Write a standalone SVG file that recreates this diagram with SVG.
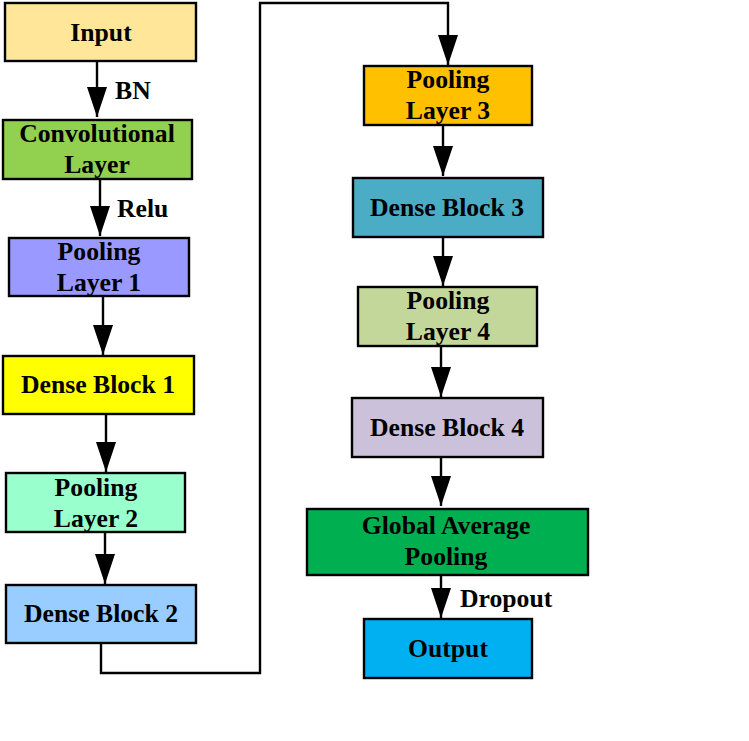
<svg xmlns="http://www.w3.org/2000/svg" width="749" height="741" viewBox="0 0 749 741">
<style>
.box{stroke:#000;stroke-width:2.4}
.t{font-family:"Liberation Serif","Times New Roman",serif;font-weight:bold;font-size:25.7px;fill:#000;text-anchor:middle}
.lbl{font-family:"Liberation Serif","Times New Roman",serif;font-weight:bold;font-size:25.7px;fill:#000}
.c{fill:none;stroke:#000;stroke-width:2.4}
</style>
<defs>
<marker id="a" viewBox="0 0 30 20" refX="30" refY="10" markerWidth="30" markerHeight="20" markerUnits="userSpaceOnUse" orient="auto">
<path d="M0,0 L30,10 L0,20 z" fill="#000"/>
</marker>
</defs>
<rect width="749" height="741" fill="#fff"/>
<g id="connectors">
<path class="c" d="M97,61 V117" marker-end="url(#a)"/>
<path class="c" d="M100,179 V236" marker-end="url(#a)"/>
<path class="c" d="M103,296 V355" marker-end="url(#a)"/>
<path class="c" d="M106,414 V472" marker-end="url(#a)"/>
<path class="c" d="M105,532 V584" marker-end="url(#a)"/>
<path class="c" d="M101,643 V673 H260 V3 H448 V65" marker-end="url(#a)"/>
<path class="c" d="M443,125 V176" marker-end="url(#a)"/>
<path class="c" d="M443,237 V286" marker-end="url(#a)"/>
<path class="c" d="M441,346 V397" marker-end="url(#a)"/>
<path class="c" d="M441,457 V506" marker-end="url(#a)"/>
<path class="c" d="M441,575 V618" marker-end="url(#a)"/>
<text class="lbl" x="115" y="99">BN</text>
<text class="lbl" x="117" y="217">Relu</text>
<text class="lbl" x="460" y="607">Dropout</text>
</g>
<g id="input"><rect class="box" x="5" y="3" width="191" height="58" fill="#FFE699"/><text class="t" x="101" y="40.5">Input</text></g>
<g id="conv"><rect class="box" x="3" y="120" width="189" height="59" fill="#92D050"/><text class="t" x="97" y="142">Convolutional</text><text class="t" x="97" y="173">Layer</text></g>
<g id="pool1"><rect class="box" x="9" y="238" width="180" height="58" fill="#9999FF"/><text class="t" x="99" y="260">Pooling</text><text class="t" x="99" y="291">Layer 1</text></g>
<g id="dense1"><rect class="box" x="3" y="356" width="191" height="58" fill="#FFFF00"/><text class="t" x="98" y="393">Dense Block 1</text></g>
<g id="pool2"><rect class="box" x="6" y="473" width="179" height="59" fill="#99FFCC"/><text class="t" x="96" y="496">Pooling</text><text class="t" x="96" y="527">Layer 2</text></g>
<g id="dense2"><rect class="box" x="6" y="585" width="190" height="58" fill="#99CCFF"/><text class="t" x="101" y="622">Dense Block 2</text></g>
<g id="pool3"><rect class="box" x="364" y="66" width="168" height="59" fill="#FFC000"/><text class="t" x="448" y="88">Pooling</text><text class="t" x="448" y="119">Layer 3</text></g>
<g id="dense3"><rect class="box" x="353" y="178" width="190" height="59" fill="#4BACC6"/><text class="t" x="447" y="216">Dense Block 3</text></g>
<g id="pool4"><rect class="box" x="358" y="287" width="179" height="59" fill="#C4D79B"/><text class="t" x="448" y="309">Pooling</text><text class="t" x="448" y="340">Layer 4</text></g>
<g id="dense4"><rect class="box" x="352" y="398" width="191" height="59" fill="#CCC1DA"/><text class="t" x="447" y="436">Dense Block 4</text></g>
<g id="gap"><rect class="box" x="307" y="509" width="281" height="66" fill="#00B050"/><text class="t" x="446" y="534">Global Average</text><text class="t" x="446" y="565">Pooling</text></g>
<g id="output"><rect class="box" x="364" y="619" width="168" height="59" fill="#00B0F0"/><text class="t" x="448" y="657">Output</text></g>
</svg>
